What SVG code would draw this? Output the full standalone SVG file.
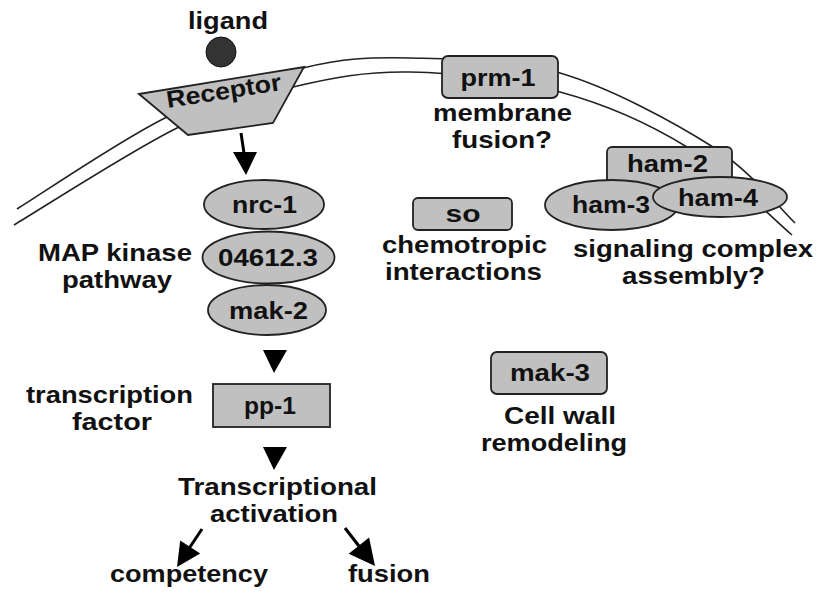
<svg xmlns="http://www.w3.org/2000/svg" width="822" height="596" viewBox="0 0 822 596">
<style>
.t{font-family:"Liberation Sans",Arial,sans-serif;font-weight:bold;font-size:24px;fill:#111;text-anchor:middle}
.n{fill:#c0c0c0;stroke:#222;stroke-width:1.8}
.m{fill:none;stroke:#222;stroke-width:1.6}
.a{stroke:#000;stroke-width:3;fill:none}
.h{fill:#000}
</style>
<rect width="822" height="596" fill="#fff"/>
<g id="membrane">
<path class="m" d="M17,209 C42,193.7 119.3,140.5 167,117 C214.7,93.5 262.5,77.8 303,68 C343.5,58.2 367.2,57.2 410,58 C452.8,58.8 509.5,58.2 560,73 C610.5,87.8 673.8,122 713,147 C752.2,172 781.3,210.3 795,223"/>
<path class="m" d="M14,225 C41.2,208.8 130.5,151 177,128 C223.5,105 254.2,96.3 293,87 C331.8,77.7 365.5,71.2 410,72 C454.5,72.8 513.8,79.5 560,92 C606.2,104.5 648.3,123.2 687,147 C725.7,170.8 774.5,220.3 792,235"/>
</g>
<g id="ligand">
<circle cx="221" cy="52" r="15" fill="#333" stroke="#111" stroke-width="1"/>
<text class="t" x="228" y="29" textLength="80" lengthAdjust="spacingAndGlyphs">ligand</text>
</g>
<g id="receptor">
<polygon class="n" points="139,94 304,67 273,123 188,135"/>
<text class="t" x="225" y="99" transform="rotate(-9 225 99)" textLength="116" lengthAdjust="spacingAndGlyphs">Receptor</text>
</g>
<g id="prm-1">
<rect class="n" x="442" y="56" width="116" height="42" rx="6"/>
<text class="t" x="498" y="86" textLength="75" lengthAdjust="spacingAndGlyphs">prm-1</text>
<text class="t" x="502.5" y="121" textLength="139" lengthAdjust="spacingAndGlyphs">membrane</text>
<text class="t" x="502" y="148" textLength="100" lengthAdjust="spacingAndGlyphs">fusion?</text>
</g>
<g id="ham-2">
<rect class="n" x="607" y="147" width="125" height="45" rx="5"/>
<text class="t" x="667.5" y="172" textLength="81" lengthAdjust="spacingAndGlyphs">ham-2</text>
</g>
<g id="ham-3">
<ellipse class="n" cx="611.5" cy="205" rx="66.5" ry="25"/>
</g>
<g id="ham-4">
<ellipse class="n" cx="720" cy="197" rx="67" ry="20"/>
<text class="t" x="718" y="206" textLength="80" lengthAdjust="spacingAndGlyphs">ham-4</text>
</g>
<text class="t" x="611" y="213" textLength="78" lengthAdjust="spacingAndGlyphs">ham-3</text>
<text class="t" x="693" y="257" textLength="240" lengthAdjust="spacingAndGlyphs">signaling complex</text>
<text class="t" x="693.5" y="284" textLength="143" lengthAdjust="spacingAndGlyphs">assembly?</text>
<g id="so">
<rect class="n" x="413" y="198" width="99" height="32" rx="5"/>
<text class="t" x="463" y="222" textLength="35" lengthAdjust="spacingAndGlyphs">so</text>
<text class="t" x="464.5" y="253" textLength="165" lengthAdjust="spacingAndGlyphs">chemotropic</text>
<text class="t" x="463.5" y="280" textLength="157" lengthAdjust="spacingAndGlyphs">interactions</text>
</g>
<g id="mak-3">
<rect class="n" x="491" y="352" width="116" height="42" rx="6"/>
<text class="t" x="550" y="381" textLength="80" lengthAdjust="spacingAndGlyphs">mak-3</text>
<text class="t" x="560" y="424" textLength="112" lengthAdjust="spacingAndGlyphs">Cell wall</text>
<text class="t" x="554" y="451" textLength="146" lengthAdjust="spacingAndGlyphs">remodeling</text>
</g>
<g id="nrc-1">
<ellipse class="n" cx="264" cy="204.5" rx="60" ry="24.5"/>
<text class="t" x="264.5" y="213" textLength="65" lengthAdjust="spacingAndGlyphs">nrc-1</text>
</g>
<g id="n04612">
<ellipse class="n" cx="268.5" cy="257.5" rx="66" ry="26"/>
<text class="t" x="268" y="266" textLength="100" lengthAdjust="spacingAndGlyphs">04612.3</text>
</g>
<g id="mak-2">
<ellipse class="n" cx="267" cy="310" rx="59" ry="25"/>
<text class="t" x="268.5" y="319" textLength="79" lengthAdjust="spacingAndGlyphs">mak-2</text>
</g>
<g id="map-label">
<text class="t" x="115" y="261" textLength="154" lengthAdjust="spacingAndGlyphs">MAP kinase</text>
<text class="t" x="117" y="288" textLength="110" lengthAdjust="spacingAndGlyphs">pathway</text>
</g>
<g id="pp-1">
<rect class="n" x="213" y="384" width="117" height="43"/>
<text class="t" x="270" y="414" textLength="52" lengthAdjust="spacingAndGlyphs">pp-1</text>
</g>
<g id="tf-label">
<text class="t" x="109.5" y="403" textLength="167" lengthAdjust="spacingAndGlyphs">transcription</text>
<text class="t" x="112" y="430" textLength="80" lengthAdjust="spacingAndGlyphs">factor</text>
</g>
<g id="activation">
<text class="t" x="277.5" y="495" textLength="199" lengthAdjust="spacingAndGlyphs">Transcriptional</text>
<text class="t" x="274" y="522" textLength="128" lengthAdjust="spacingAndGlyphs">activation</text>
</g>
<g id="competency"><text class="t" x="189" y="582" textLength="158" lengthAdjust="spacingAndGlyphs">competency</text></g>
<g id="fusion"><text class="t" x="389" y="582" textLength="82" lengthAdjust="spacingAndGlyphs">fusion</text></g>
<g id="connectors">
<line class="a" x1="241" y1="133" x2="244" y2="153"/>
<polygon class="h" points="233,152 257,152 246,175"/>
<polygon class="h" points="263,350 287,350 274,373"/>
<polygon class="h" points="263,447 287,447 274,470"/>
<line class="a" x1="202" y1="529" x2="188" y2="550"/>
<polygon class="h" points="200.2,553.6 180.2,540.4 177,567"/>
<line class="a" x1="345" y1="528" x2="362" y2="550"/>
<polygon class="h" points="369.1,537.5 348.7,553.7 375,566"/>
</g>
</svg>
